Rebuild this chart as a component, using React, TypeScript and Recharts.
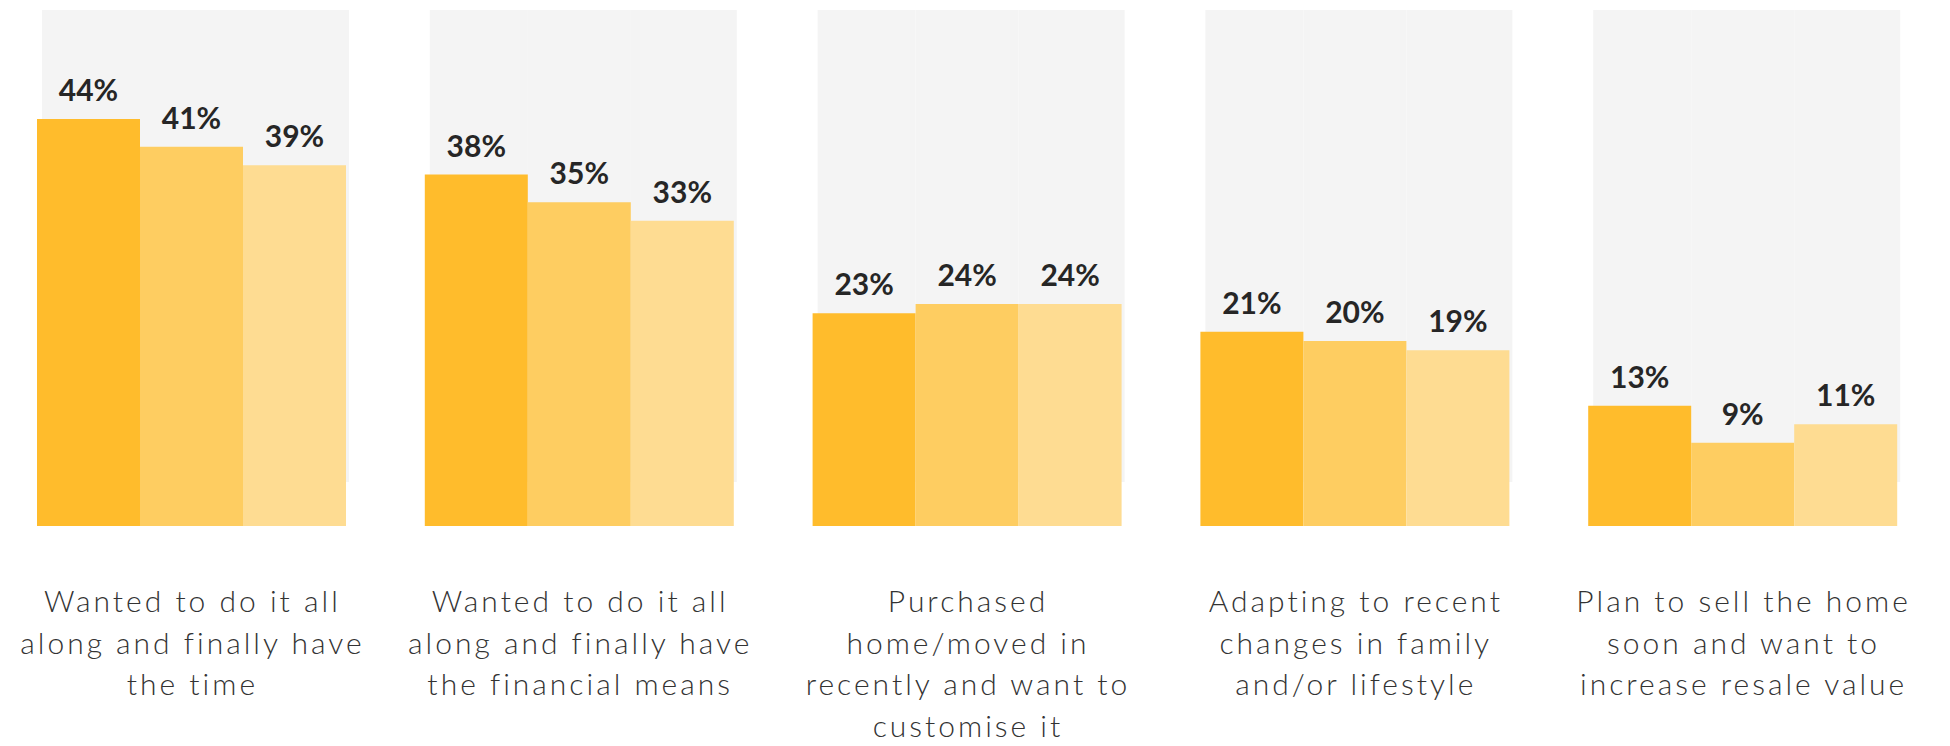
import React from "react";
import { BarChart, Bar, XAxis, YAxis, LabelList } from "recharts";

const categories = [
  "Wanted to do it all\nalong and finally have\nthe time",
  "Wanted to do it all\nalong and finally have\nthe financial means",
  "Purchased\nhome/moved in\nrecently and want to\ncustomise it",
  "Adapting to recent\nchanges in family\nand/or lifestyle",
  "Plan to sell the home\nsoon and want to\nincrease resale value",
];
const seriesA = [44, 38, 23, 21, 13];
const seriesB = [41, 35, 24, 20, 9];
const seriesC = [39, 33, 24, 19, 11];

const data = categories.map((c, i) => ({
  category: c,
  a: seriesA[i],
  b: seriesB[i],
  c: seriesC[i],
}));

const GRAY = "#f4f4f4";

const CategoryTick = (props: any) => {
  const { x, y, payload } = props;
  const lines = String(payload.value).split("\n");
  return (
    <text
      x={x + 1.5}
      y={y + 86}
      textAnchor="middle"
      fill="#333333"
      fontFamily="Lato, 'Noto Sans', sans-serif"
      fontWeight={300}
      fontSize={30}
      letterSpacing={3}
    >
      {lines.map((l, i) => (
        <tspan key={i} x={x + 1.5} dy={i === 0 ? 0 : 41.5}>
          {l}
        </tspan>
      ))}
    </text>
  );
};

const bgA = (p: any) => (
  <rect x={p.x + 5} y={p.y + 2} width={p.width - 5} height={p.height - 46} fill={GRAY} />
);
const bgB = (p: any) => (
  <rect x={p.x} y={p.y + 2} width={p.width} height={p.height - 46} fill={GRAY} />
);
const bgC = (p: any) => (
  <rect x={p.x} y={p.y + 2} width={p.width + 3} height={p.height - 46} fill={GRAY} />
);

const labelStyle = {
  fill: "#262626",
  fontSize: 30,
  fontWeight: 700,
  fontFamily: "Lato, 'Noto Sans', sans-serif",
};

const fmt = (v: any) => `${v}%`;

export default function App() {
  return (
    <div style={{ position: "absolute", left: -3, top: 0, width: 1953, height: 746, background: "#fff" }}>
      <BarChart
        width={1953}
        height={746}
        data={data}
        margin={{ top: 8, right: 14, bottom: 20, left: 0 }}
        barCategoryGap={40}
        barGap={0}
      >
        <XAxis
          dataKey="category"
          axisLine={false}
          tickLine={false}
          tickSize={0}
          tickMargin={0}
          height={200}
          interval={0}
          tick={<CategoryTick />}
        />
        <YAxis hide domain={[0, 56]} />
        <Bar dataKey="a" fill="#FFBC2C" isAnimationActive={false} background={bgA}>
          <LabelList dataKey="a" position="top" offset={18} formatter={fmt} style={labelStyle} />
        </Bar>
        <Bar dataKey="b" fill="#FECD61" isAnimationActive={false} background={bgB}>
          <LabelList dataKey="b" position="top" offset={18} formatter={fmt} style={labelStyle} />
        </Bar>
        <Bar dataKey="c" fill="#FEDC92" isAnimationActive={false} background={bgC}>
          <LabelList dataKey="c" position="top" offset={18} formatter={fmt} style={labelStyle} />
        </Bar>
      </BarChart>
    </div>
  );
}
